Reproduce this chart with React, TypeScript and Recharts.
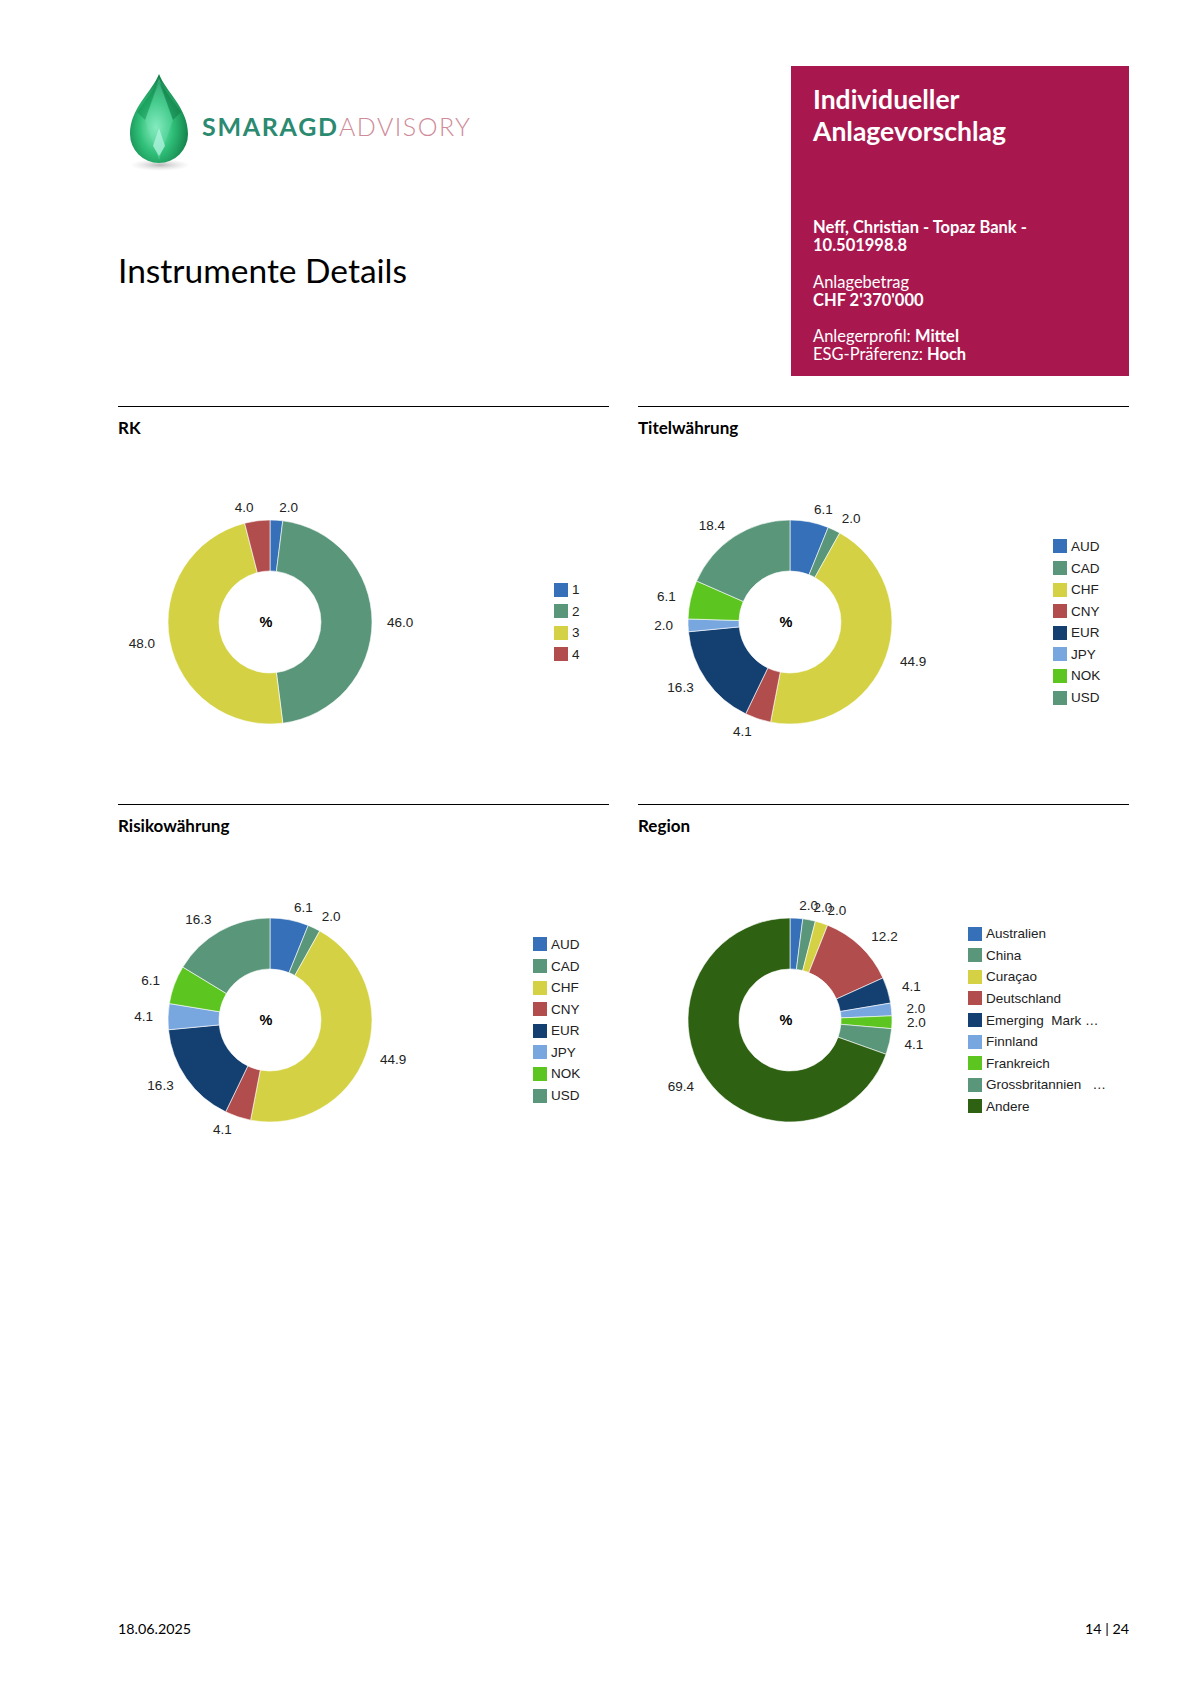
import React from "react";
import { PieChart, Pie, Cell, Legend } from "recharts";

// palette (Google-chart like)
const BLUE = "#3670b8";
const TEAL = "#59967a";
const YELLOW = "#d4d244";
const RED = "#b24d4d";
const NAVY = "#143f71";
const LIGHTBLUE = "#78a6df";
const LIME = "#5dc520";
const DARKGREEN = "#2e6212";

const rkNames = ["1", "2", "3", "4"];
const rkValues = [2.0, 46.0, 48.0, 4.0];
const rkColors = [BLUE, TEAL, YELLOW, RED];

const currencyNames = ["AUD", "CAD", "CHF", "CNY", "EUR", "JPY", "NOK", "USD"];
const currencyColors = [BLUE, TEAL, YELLOW, RED, NAVY, LIGHTBLUE, LIME, TEAL];
const titelValues = [6.1, 2.0, 44.9, 4.1, 16.3, 2.0, 6.1, 18.4];
const risikoValues = [6.1, 2.0, 44.9, 4.1, 16.3, 4.1, 6.1, 16.3];

const regionNames = [
  "Australien",
  "China",
  "Curaçao",
  "Deutschland",
  "Emerging  Mark …",
  "Finnland",
  "Frankreich",
  "Grossbritannien   …",
  "Andere",
];
const regionValues = [2.0, 2.0, 2.0, 12.2, 4.1, 2.0, 2.0, 4.1, 69.4];
const regionColors = [BLUE, TEAL, YELLOW, RED, NAVY, LIGHTBLUE, LIME, TEAL, DARKGREEN];

const PAGE_FONT = "Lato, 'Open Sans', sans-serif";
const CHART_FONT = "'Liberation Sans', Arial, sans-serif";
const RAD = Math.PI / 180;

const CW = 490;
const CH = 344;
const CX = 152;
const CY = 172;

function renderLabel(props: any) {
  const { cx, cy, midAngle, outerRadius, value } = props;
  const r = outerRadius + 13;
  const cos = Math.cos(-midAngle * RAD);
  const x = cx + r * cos;
  const y = cy + r * Math.sin(-midAngle * RAD);
  return (
    <text
      x={x + (cos >= 0 ? 2 : -2)}
      y={y}
      textAnchor={cos >= 0 ? "start" : "end"}
      dominantBaseline="central"
      fontSize={13.5}
      fontFamily={CHART_FONT}
      fill="#222"
    >
      {Number(value).toFixed(1)}
    </text>
  );
}

function legendContent(names: string[], colors: string[]) {
  return (props: any) => {
    const items = props.payload && props.payload.length ? props.payload : names.map((n) => ({ value: n }));
    return (
      <div>
        {items.map((entry: any, i: number) => (
          <div key={i} style={{ display: "flex", alignItems: "center", height: 21.6 }}>
            <span style={{ width: 14, height: 14, background: colors[i], marginRight: 4, display: "inline-block" }} />
            <span style={{ fontFamily: CHART_FONT, fontSize: 13.5, color: "#222", whiteSpace: "pre" }}>
              {names[i]}
            </span>
          </div>
        ))}
      </div>
    );
  };
}

function Donut({ names, values, colors, legendLeft }: { names: string[]; values: number[]; colors: string[]; legendLeft: number }) {
  const data = names.map((name, i) => ({ name, value: values[i] }));
  return (
    <div style={{ position: "relative", width: CW, height: CH }}>
      <PieChart width={CW} height={CH} margin={{ top: 0, right: 0, bottom: 0, left: 0 }}>
        <Pie
          data={data}
          dataKey="value"
          nameKey="name"
          cx={CX}
          cy={CY}
          innerRadius={51}
          outerRadius={102}
          startAngle={90}
          endAngle={-270}
          stroke="#ffffff"
          strokeWidth={0.6}
          label={renderLabel}
          labelLine={false}
          isAnimationActive={false}
        >
          {data.map((d, i) => (
            <Cell key={d.name + i} fill={colors[i]} />
          ))}
        </Pie>
        <Legend
          layout="vertical"
          align="right"
          verticalAlign="middle"
          wrapperStyle={{ left: legendLeft }}
          content={legendContent(names, colors)}
        />
      </PieChart>
      <div
        style={{
          position: "absolute",
          left: CX - 24,
          top: CY - 10,
          width: 40,
          height: 20,
          lineHeight: "20px",
          textAlign: "center",
          fontFamily: CHART_FONT,
          fontWeight: "bold",
          fontSize: 14.5,
          color: "#000",
        }}
      >
        %
      </div>
    </div>
  );
}

function Logo() {
  return (
    <svg width={400} height={140} viewBox="100 50 400 140" style={{ position: "absolute", left: 100, top: 50 }}>
      <defs>
        <radialGradient id="gem" cx="45%" cy="60%" r="65%">
          <stop offset="0%" stopColor="#8ff0c4" />
          <stop offset="45%" stopColor="#2fbf78" />
          <stop offset="100%" stopColor="#0b6e3c" />
        </radialGradient>
        <radialGradient id="shadow" cx="50%" cy="50%" r="50%">
          <stop offset="0%" stopColor="#999" stopOpacity="0.7" />
          <stop offset="100%" stopColor="#ccc" stopOpacity="0" />
        </radialGradient>
      </defs>
      <ellipse cx={160} cy={165} rx={30} ry={6} fill="url(#shadow)" />
      <path
        d="M 159 74 C 152 92, 130 108, 130 134 A 29 29 0 0 0 188 134 C 188 108, 166 92, 159 74 Z"
        fill="url(#gem)"
      />
      <path d="M 159 78 L 145 120 L 159 160 L 173 120 Z" fill="#6fe3b4" opacity={0.35} />
      <path d="M 159 82 L 137 112 L 145 120 Z" fill="#0f8a4c" opacity={0.45} />
      <path d="M 159 82 L 181 112 L 173 120 Z" fill="#0a7040" opacity={0.45} />
      <path d="M 159 128 L 153 146 L 159 156 L 165 146 Z" fill="#b8f7e4" opacity={0.7} />
      <text x={202} y={136} fontFamily={PAGE_FONT} fontWeight="bold" fontSize={25} fill="#2b8a70" textLength={135} lengthAdjust="spacing">
        SMARAGD
      </text>
      <text x={339} y={136} fontFamily={PAGE_FONT} fontWeight={300} fontSize={25} fill="#cf8b9a" textLength={131} lengthAdjust="spacing">
        ADVISORY
      </text>
    </svg>
  );
}

const abs = (left: number, top: number, extra: React.CSSProperties = {}): React.CSSProperties => ({
  position: "absolute",
  left,
  top,
  ...extra,
});

function BoxLine({ y, size, children }: { y: number; size: number; children: React.ReactNode }) {
  const lh = Math.round(size * 1.25);
  return (
    <div style={abs(813, y - lh / 2, { fontSize: size, lineHeight: `${lh}px`, color: "#fff", whiteSpace: "nowrap" })}>
      {children}
    </div>
  );
}

function SectionHead({ x, y, title }: { x: number; y: number; title: string }) {
  return (
    <>
      <div style={abs(x, y, { width: 491, height: 1, background: "#000" })} />
      <div style={abs(x, y + 12, { fontSize: 17, fontWeight: "bold", lineHeight: "20px", color: "#000" })}>{title}</div>
    </>
  );
}

export default function App() {
  return (
    <div
      style={{
        position: "absolute",
        left: 0,
        top: 0,
        width: 1190,
        height: 1683,
        background: "#fff",
        fontFamily: PAGE_FONT,
        overflow: "hidden",
      }}
    >
      <Logo />

      <div style={abs(118, 249, { fontSize: 33.5, lineHeight: "42px", color: "#000" })}>Instrumente Details</div>

      <div style={abs(791, 66, { width: 338, height: 310, background: "#a8184f" })} />
      <BoxLine y={99} size={26.5}>
        <b>Individueller</b>
      </BoxLine>
      <BoxLine y={131} size={26.5}>
        <b>Anlagevorschlag</b>
      </BoxLine>
      <BoxLine y={227} size={16.5}>
        <b>Neff, Christian - Topaz Bank -</b>
      </BoxLine>
      <BoxLine y={245} size={16.5}>
        <b>10.501998.8</b>
      </BoxLine>
      <BoxLine y={282} size={16.5}>
        Anlagebetrag
      </BoxLine>
      <BoxLine y={300} size={16.5}>
        <b>CHF 2'370'000</b>
      </BoxLine>
      <BoxLine y={336} size={16.5}>
        Anlegerprofil: <b>Mittel</b>
      </BoxLine>
      <BoxLine y={354} size={16.5}>
        ESG-Präferenz: <b>Hoch</b>
      </BoxLine>

      <SectionHead x={118} y={406} title="RK" />
      <SectionHead x={638} y={406} title="Titelwährung" />
      <SectionHead x={118} y={804} title="Risikowährung" />
      <SectionHead x={638} y={804} title="Region" />

      <div style={abs(118, 450)}>
        <Donut names={rkNames} values={rkValues} colors={rkColors} legendLeft={436} />
      </div>
      <div style={abs(638, 450)}>
        <Donut names={currencyNames} values={titelValues} colors={currencyColors} legendLeft={415} />
      </div>
      <div style={abs(118, 848)}>
        <Donut names={currencyNames} values={risikoValues} colors={currencyColors} legendLeft={415} />
      </div>
      <div style={abs(638, 848)}>
        <Donut names={regionNames} values={regionValues} colors={regionColors} legendLeft={330} />
      </div>

      <div style={abs(118, 1619, { fontSize: 14.3, lineHeight: "20px", color: "#000" })}>18.06.2025</div>
      <div style={abs(1029, 1619, { width: 100, textAlign: "right", fontSize: 14.3, lineHeight: "20px", color: "#000" })}>
        14 | 24
      </div>
    </div>
  );
}
